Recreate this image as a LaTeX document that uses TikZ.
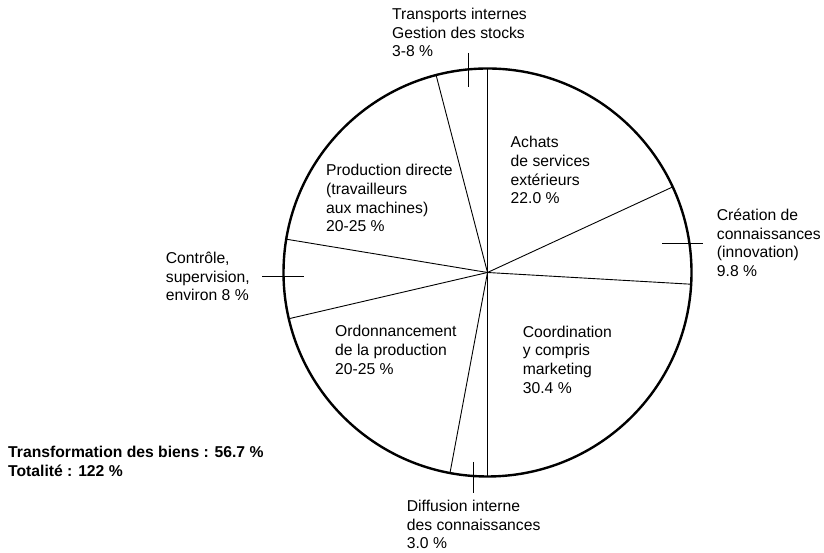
\documentclass[tikz,border=0pt]{standalone}
\usepackage{fontspec}
\setmainfont{Liberation Sans}
\usepackage{tikz}

\begin{document}
\begin{tikzpicture}[x=1pt, y=1pt,
    lbl/.style={align=left, anchor=base west, inner sep=0pt,
      font=\fontsize{15.7}{18.7}\selectfont},
    rim/.style={line width=2.4pt},
    ray/.style={line width=0.9pt},
    tick/.style={line width=1pt}]
  \useasboundingbox (0,0) rectangle (824,553);
  % disque
  \coordinate (O) at (487.5,280.5);
  \draw[rim] (O) circle (204);
  \foreach \a in {90,104.6,170.6,193.1,259.4,270,356.7,24.8}
    \draw[ray] (O) -- ++(\a:204);
  % reperes
  \coordinate (T1) at (468,500); \coordinate (T2) at (468,466);
  \coordinate (B1) at (473,91);  \coordinate (B2) at (473,60);
  \coordinate (L1) at (262,276); \coordinate (L2) at (304,276);
  \coordinate (R1) at (662,309); \coordinate (R2) at (703,309);
  \draw[tick] (T1) -- (T2);
  \draw[tick] (B1) -- (B2);
  \draw[tick] (L1) -- (L2);
  \draw[tick] (R1) -- (R2);
  % textes (ancre = ligne de base de la derniere ligne)
  \node (transports) [lbl] at (392,496) {Transports internes\\Gestion des stocks\\3-8 \%};
  \node (achats) [lbl] at (510.5,349) {Achats\\de services\\extérieurs\\22.0 \%};
  \node (creation) [lbl] at (716.7,276.3) {Création de\\connaissances\\(innovation)\\9.8 \%};
  \node (production) [lbl] at (326,321) {Production directe\\(travailleurs\\aux machines)\\20-25 \%};
  \node (controle) [lbl] at (165.7,252) {Contrôle,\\supervision,\\environ 8 \%};
  \node (ordonnancement) [lbl] at (335,178.7) {Ordonnancement\\de la production\\20-25 \%};
  \node (coordination) [lbl] at (522.7,159.7) {Coordination\\y compris\\marketing\\30.4 \%};
  \node (diffusion) [lbl] at (406.7,4) {Diffusion interne\\des connaissances\\3.0 \%};
  \node (total) [lbl, font=\fontsize{15.7}{19.5}\selectfont\bfseries] at (8,76.3)
    {Transformation des biens : 56.7 \%\\Totalité : 122 \%};
\end{tikzpicture}
\end{document}
